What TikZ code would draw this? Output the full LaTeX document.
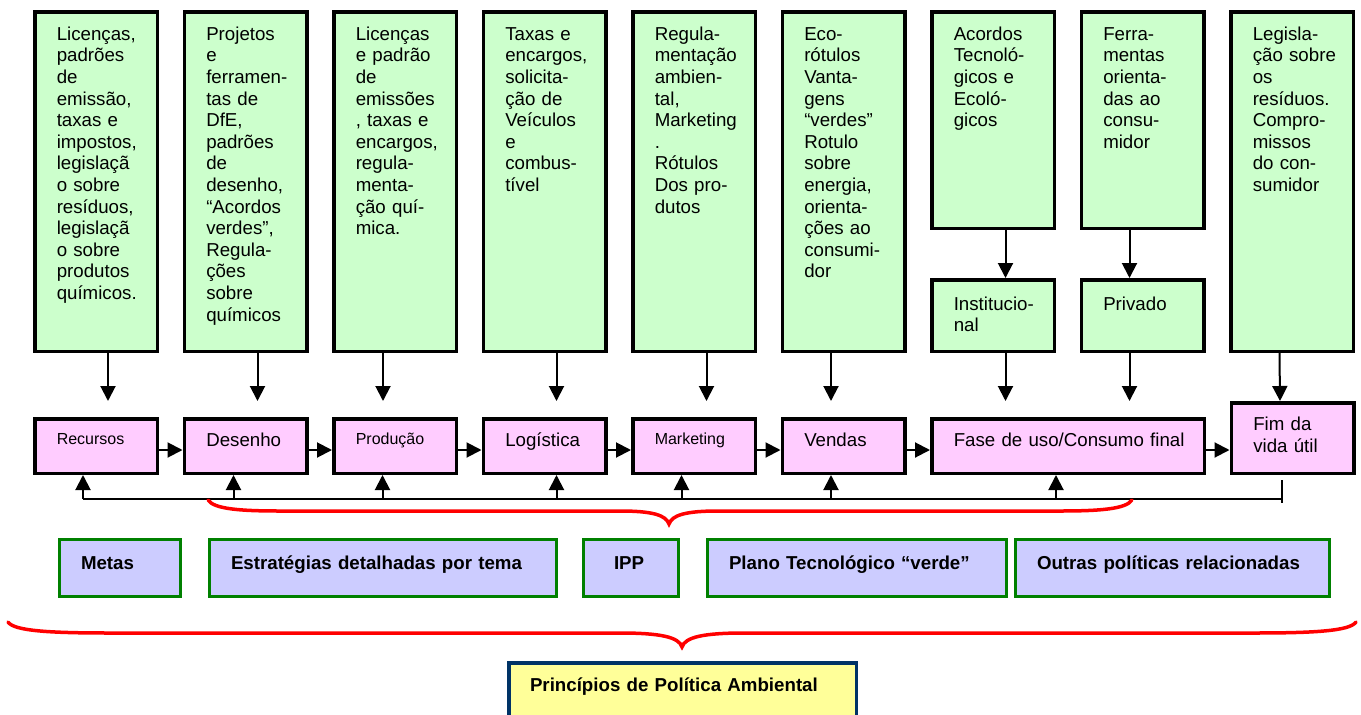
\documentclass[tikz,border=0pt]{standalone}
\usepackage{fontspec}
\setmainfont{Liberation Sans}
\usepackage{tikz}
\usetikzlibrary{positioning, arrows.meta}
\usepackage{xcolor}

\definecolor{levergreen}{HTML}{CCFFCC}
\definecolor{stagepink}{HTML}{FFCCFF}
\definecolor{toollilac}{HTML}{CCCCFF}
\definecolor{toolgreen}{HTML}{008000}
\definecolor{baseyellow}{HTML}{FFFF99}
\definecolor{basenavy}{HTML}{003366}

\begin{document}
\begin{tikzpicture}[x=1pt, y=-1pt, node distance=23.5pt,
	every node/.style={execute at begin node={\leftskip=11pt}},
	lever/.style={draw, line width=3.5pt, fill=levergreen, anchor=north west, align=left,
		text width=100.5pt, inner xsep=11pt, inner ysep=0pt, text height=28.5pt, text depth=311pt,
		font=\fontsize{18.7}{21.6}\selectfont},
	stage/.style={draw, line width=3.5pt, fill=stagepink, align=left,
		text width=100.5pt, inner xsep=11pt, inner ysep=0pt, text height=27.25pt, text depth=27.25pt,
		font=\fontsize{18.7}{22}\selectfont},
	stagesm/.style={stage, text height=25.25pt, text depth=29.25pt, font=\fontsize{16}{19}\selectfont},
	tool/.style={draw=toolgreen, line width=3pt, fill=toollilac, anchor=north west, align=left,
		inner xsep=10.5pt, inner ysep=0pt, text height=29.5pt, text depth=27.5pt,
		font=\fontsize{18.7}{22}\selectfont\bfseries},
	base/.style={draw=basenavy, line width=3.5pt, fill=baseyellow, anchor=north west, align=left,
		text width=327pt, inner xsep=10.25pt, inner ysep=0pt, text height=28.25pt, text depth=37.75pt,
		font=\fontsize{18.7}{22}\selectfont\bfseries},
	arr/.style={line width=2pt, -{Triangle[length=15pt, width=15pt]}},
	link/.style={line width=2pt},
	brace/.style={draw=red, line width=3.5pt, line cap=round}]

	\useasboundingbox (0,0) rectangle (1361,715);

	% instrumentos por fase
	\node[lever] at (33,10) (l1) {Licenças,\\ padrões\\ de\\ emissão,\\ taxas e\\ impostos,\\ legislaçã\\ o sobre\\ resíduos,\\ legislaçã\\ o sobre\\ produtos\\ químicos.};
	\node[lever, right=of l1.north east, anchor=north west] (l2) {Projetos\\ e\\ ferramen-\\ tas de\\ DfE,\\ padrões\\ de\\ desenho,\\ “Acordos\\ verdes”,\\ Regula-\\ ções\\ sobre\\ químicos};
	\node[lever, right=of l2.north east, anchor=north west] (l3) {Licenças\\ e padrão\\ de\\ emissões\\ , taxas e\\ encargos,\\ regula-\\ menta-\\ ção quí-\\ mica.};
	\node[lever, right=of l3.north east, anchor=north west] (l4) {Taxas e\\ encargos,\\ solicita-\\ ção de\\ Veículos\\ e\\ combus-\\ tível};
	\node[lever, right=of l4.north east, anchor=north west] (l5) {Regula-\\ mentação\\ ambien-\\ tal,\\ Marketing\\ .\\ Rótulos\\ Dos pro-\\ dutos};
	\node[lever, right=of l5.north east, anchor=north west] (l6) {Eco-\\ rótulos\\ Vanta-\\ gens\\ “verdes”\\ Rotulo\\ sobre\\ energia,\\ orienta-\\ ções ao\\ consumi-\\ dor};
	\node[lever, text depth=188pt, right=of l6.north east, anchor=north west] (l7) {Acordos\\ Tecnoló-\\ gicos e\\ Ecoló-\\ gicos};
	\node[lever, text depth=188pt, right=of l7.north east, anchor=north west] (l8) {Ferra-\\ mentas\\ orienta-\\ das ao\\ consu-\\ midor};
	\node[lever, right=of l8.north east, anchor=north west] (l9) {Legisla-\\ ção sobre\\ os\\ resíduos.\\ Compro-\\ missos\\ do con-\\ sumidor};
	\node[lever, text height=30.5pt, text depth=41pt, below=48pt of l7] (i7) {Institucio-\\ nal};
	\node[lever, text height=30.5pt, text depth=41pt, below=48pt of l8] (p8) {Privado};

	% cadeia do ciclo de vida
	\node[stagesm, below=64pt of l1] (m1) {Recursos};
	\node[stage, right=of m1] (m2) {Desenho};
	\node[stagesm, right=of m2] (m3) {Produção};
	\node[stage, right=of m3] (m4) {Logística};
	\node[stagesm, right=of m4] (m5) {Marketing};
	\node[stage, right=of m5] (m6) {Vendas};
	\node[stage, text width=250.5pt, right=of m6] (m7) {Fase de uso/Consumo final};
	\node[stage, text depth=43.25pt, right=of m7.south east, anchor=south west] (m8) {Fim da\\ vida útil};
	\coordinate (back) at (0,499);

	% politicas
	\node[tool, text width=100pt] at (58,538) (t1) {Metas};
	\node[tool, text width=326pt] at (208,538) (t2) {Estratégias detalhadas por tema};
	\node[tool, text width=74pt, execute at begin node={\leftskip=20pt}] at (582,538) (t3) {IPP};
	\node[tool, text width=278pt] at (706,538) (t4) {Plano Tecnológico “verde”};
	\node[tool, text width=293pt] at (1014,538) (t5) {Outras políticas relacionadas};

	\node[base] at (507,661) (pa) {Princípios de Política Ambiental};

	\draw
	([xshift=12pt]l1.south) edge[arr] ([xshift=12pt]l1.south |- m8.north)
	([xshift=12pt]l2.south) edge[arr] ([xshift=12pt]l2.south |- m8.north)
	([xshift=-12pt]l3.south) edge[arr] ([xshift=-12pt]l3.south |- m8.north)
	([xshift=12pt]l4.south) edge[arr] ([xshift=12pt]l4.south |- m8.north)
	([xshift=12.5pt]l5.south) edge[arr] ([xshift=12.5pt]l5.south |- m8.north)
	([xshift=-12.5pt]l6.south) edge[arr] ([xshift=-12.5pt]l6.south |- m8.north)
	([xshift=12.5pt]l7.south) edge[arr] ([xshift=12.5pt]i7.north)
	([xshift=-13pt]l8.south) edge[arr] ([xshift=-13pt]p8.north)
	([xshift=12.5pt]i7.south) edge[arr] ([xshift=12.5pt]i7.south |- m8.north)
	([xshift=-13pt]p8.south) edge[arr] ([xshift=-13pt]p8.south |- m8.north)
	([xshift=-12.5pt]l9.south) edge[arr] ([xshift=-12.5pt]m8.north);

	\draw
	([yshift=-4pt]m1.east) edge[arr] ([yshift=-4pt]m1.east -| m2.west)
	([yshift=-4pt]m2.east) edge[arr] ([yshift=-4pt]m2.east -| m3.west)
	([yshift=-4pt]m3.east) edge[arr] ([yshift=-4pt]m3.east -| m4.west)
	([yshift=-4pt]m4.east) edge[arr] ([yshift=-4pt]m4.east -| m5.west)
	([yshift=-4pt]m5.east) edge[arr] ([yshift=-4pt]m5.east -| m6.west)
	([yshift=-4pt]m6.east) edge[arr] ([yshift=-4pt]m6.east -| m7.west)
	([yshift=-4pt]m7.east) edge[arr] ([yshift=-4pt]m7.east -| m8.west);

	% retorno
	\draw[link] ([xshift=-13pt]m1.south |- back) -- ([xshift=-10.5pt]m8.south |- back);
	\draw[link] ([xshift=-10.5pt, yshift=-5pt]m8.south) -- ++(0,23);
	\draw
	([xshift=-13pt]m1.south |- back) edge[arr] ([xshift=-13pt]m1.south)
	([xshift=-12pt]m2.south |- back) edge[arr] ([xshift=-12pt]m2.south)
	([xshift=-12.5pt]m3.south |- back) edge[arr] ([xshift=-12.5pt]m3.south)
	([xshift=12pt]m4.south |- back) edge[arr] ([xshift=12pt]m4.south)
	([xshift=-12.5pt]m5.south |- back) edge[arr] ([xshift=-12.5pt]m5.south)
	([xshift=-12.5pt]m6.south |- back) edge[arr] ([xshift=-12.5pt]m6.south)
	([xshift=-12pt]m7.south |- back) edge[arr] ([xshift=-12pt]m7.south);

	% chaves
	\draw[brace] (208,500) .. controls (214,509) and (240,511) .. (280,511) -- (620,511)
		.. controls (652,511) and (666,515) .. (669,524)
		.. controls (672,515) and (686,511) .. (718,511) -- (1060,511)
		.. controls (1100,511) and (1126,509) .. (1132,500);
	\draw[brace] (8,622) .. controls (14,631) and (50,633) .. (110,633) -- (620,633)
		.. controls (660,633) and (679,637) .. (682,647)
		.. controls (685,637) and (704,633) .. (744,633) -- (1254,633)
		.. controls (1314,633) and (1350,631) .. (1356,622);
\end{tikzpicture}
\end{document}
